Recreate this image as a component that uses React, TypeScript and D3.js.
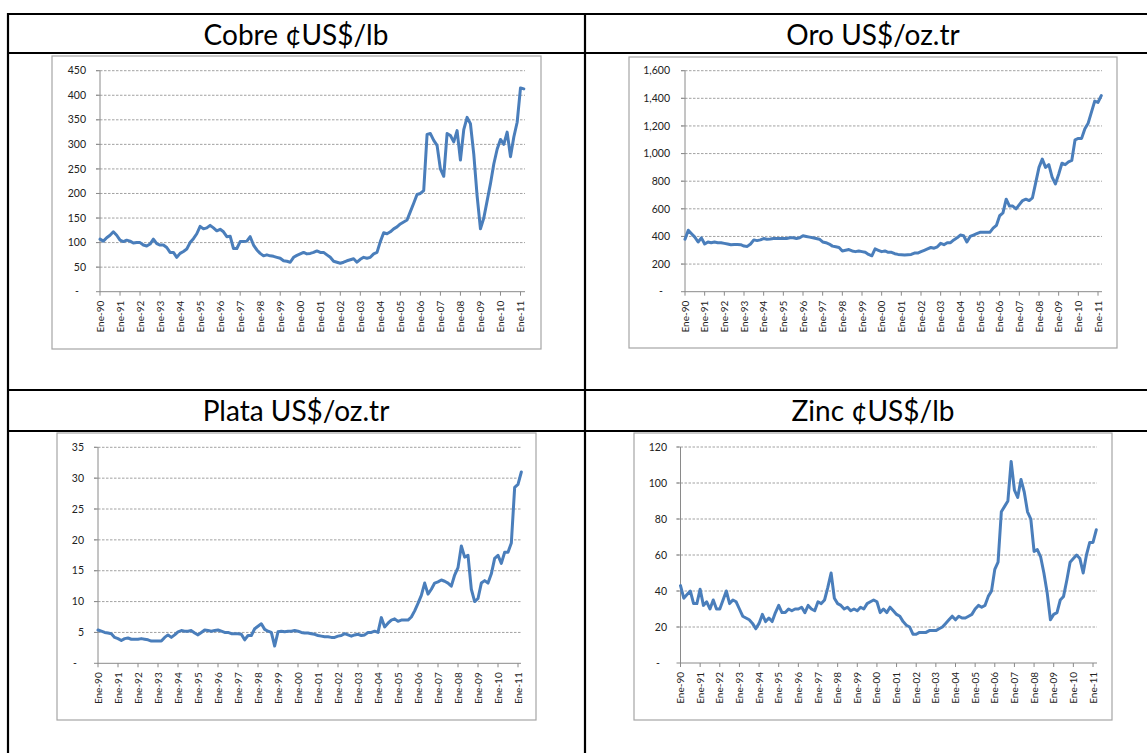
import React from 'react';
import * as d3 from 'd3';

// Ene-90 .. Ene-11, each year holds six bimonthly readings (Ene, Mar, May, Jul, Sep, Nov)
const years = [1990, 1991, 1992, 1993, 1994, 1995, 1996, 1997, 1998, 1999, 2000,
  2001, 2002, 2003, 2004, 2005, 2006, 2007, 2008, 2009, 2010, 2011];

const cobre = [
  [107, 103, 110, 115, 122, 115],
  [105, 102, 105, 103, 99, 100],
  [100, 95, 93, 97, 107, 98],
  [95, 95, 90, 80, 80, 70],
  [78, 82, 87, 100, 108, 118],
  [133, 128, 130, 135, 130, 124],
  [127, 122, 112, 113, 88, 88],
  [102, 102, 103, 112, 95, 85],
  [78, 73, 75, 73, 72, 70],
  [68, 63, 62, 60, 70, 74],
  [77, 80, 77, 78, 80, 83],
  [80, 80, 75, 70, 62, 60],
  [58, 60, 63, 65, 67, 60],
  [66, 70, 68, 70, 77, 80],
  [102, 120, 118, 122, 128, 132],
  [138, 142, 146, 163, 180, 198],
  [200, 206, 320, 322, 308, 298],
  [250, 235, 322, 318, 305, 328],
  [268, 330, 355, 342, 280, 195],
  [128, 150, 185, 220, 260, 290],
  [310, 300, 325, 275, 315, 345],
  [415, 413],
];

const oro = [
  [380, 445, 420, 395, 360, 390],
  [345, 360, 355, 360, 355, 355],
  [350, 345, 340, 342, 342, 340],
  [330, 328, 345, 375, 370, 375],
  [385, 380, 382, 385, 385, 385],
  [385, 385, 390, 390, 385, 390],
  [405, 400, 395, 390, 385, 380],
  [360, 355, 345, 330, 325, 320],
  [295, 300, 305, 295, 290, 295],
  [290, 285, 270, 260, 310, 300],
  [290, 295, 285, 285, 275, 270],
  [268, 265, 268, 270, 280, 280],
  [290, 300, 310, 320, 315, 325],
  [350, 340, 355, 355, 375, 390],
  [410, 405, 360, 400, 410, 420],
  [430, 430, 430, 430, 460, 480],
  [550, 570, 670, 620, 620, 600],
  [630, 660, 670, 660, 680, 790],
  [900, 960, 900, 920, 830, 780],
  [850, 930, 920, 940, 950, 1100],
  [1110, 1110, 1180, 1220, 1300, 1380],
  [1370, 1420],
];

const plata = [
  [5.4, 5.2, 5.0, 4.9, 4.8, 4.2],
  [4.0, 3.7, 4.0, 4.1, 3.9, 3.9],
  [3.9, 4.0, 3.9, 3.8, 3.6, 3.6],
  [3.6, 3.6, 4.2, 4.6, 4.2, 4.6],
  [5.1, 5.3, 5.2, 5.2, 5.3, 4.9],
  [4.6, 5.0, 5.4, 5.3, 5.2, 5.3],
  [5.4, 5.2, 5.0, 5.0, 4.8, 4.8],
  [4.8, 4.7, 3.8, 4.5, 4.5, 5.6],
  [6.0, 6.4, 5.5, 5.2, 5.0, 2.8],
  [5.1, 5.2, 5.1, 5.2, 5.2, 5.3],
  [5.2, 5.0, 4.9, 4.9, 4.8, 4.7],
  [4.5, 4.4, 4.3, 4.3, 4.2, 4.2],
  [4.4, 4.5, 4.8, 4.6, 4.4, 4.6],
  [4.7, 4.5, 4.6, 5.0, 5.0, 5.2],
  [5.0, 7.4, 5.9, 6.5, 7.0, 7.2],
  [6.8, 7.0, 7.0, 7.0, 7.5, 8.5],
  [9.7, 11.0, 13.0, 11.2, 12.0, 13.0],
  [13.2, 13.5, 13.3, 13.0, 12.5, 14.3],
  [15.5, 19.0, 17.2, 17.5, 12.0, 10.0],
  [10.5, 13.0, 13.4, 13.0, 14.5, 17.0],
  [17.5, 16.2, 18.0, 18.0, 19.5, 28.5],
  [29.0, 31.0],
];

const zinc = [
  [43, 36, 38, 40, 33, 33],
  [41, 32, 34, 30, 35, 30],
  [30, 35, 40, 33, 35, 34],
  [30, 26, 25, 24, 22, 19],
  [22, 27, 23, 25, 23, 28],
  [32, 28, 28, 30, 29, 30],
  [30, 31, 28, 32, 30, 29],
  [34, 33, 35, 42, 50, 36],
  [33, 32, 30, 31, 29, 30],
  [29, 31, 30, 33, 34, 35],
  [34, 28, 30, 28, 31, 29],
  [27, 26, 23, 21, 20, 16],
  [16, 17, 17, 17, 18, 18],
  [18, 19, 20, 22, 24, 26],
  [24, 26, 25, 25, 26, 27],
  [30, 32, 31, 32, 37, 40],
  [52, 56, 84, 87, 90, 112],
  [96, 92, 102, 95, 84, 80],
  [62, 63, 59, 50, 39, 24],
  [27, 28, 35, 37, 46, 56],
  [58, 60, 58, 50, 60, 67],
  [67, 74],
];

const titles = ['Cobre ¢US$/lb', 'Oro US$/oz.tr', 'Plata US$/oz.tr', 'Zinc ¢US$/lb'];
const yMaxes = [450, 1600, 35, 120];
const ySteps = [50, 200, 5, 20];

// page geometry of each chart box
const boxes = [
  {fx0: 52, fy0: 56, fx1: 541, fy1: 349, x90: 100, x11: 520.5, xEnd: 525, yTop: 70.7, yBot: 291.7, lx: 86, tx: 296, ty: 45},
  {fx0: 629, fy0: 57, fx1: 1117, fy1: 348, x90: 685, x11: 1098, xEnd: 1102, yTop: 70.7, yBot: 291.7, lx: 670, tx: 873, ty: 45},
  {fx0: 57, fy0: 433, fx1: 536, fy1: 720, x90: 98, x11: 518, xEnd: 521, yTop: 447.3, yBot: 663.3, lx: 84, tx: 296, ty: 421},
  {fx0: 634, fy0: 433, fx1: 1112, fy1: 720, x90: 680.5, x11: 1093, xEnd: 1097, yTop: 447, yBot: 663, lx: 667, tx: 873, ty: 421},
];

const series = [cobre, oro, plata, zinc];
const font = 'Lato, "Open Sans", sans-serif';
const fmt = d3.format(',');

function toPoints(rows: number[][]) {
  const pts: [number, number][] = [];
  rows.forEach((r, i) => r.forEach((v, j) => pts.push([years[i] + j / 6, v])));
  return pts;
}

function Chart({idx}: {idx: number}) {
  const b = boxes[idx];
  const x = d3.scaleLinear().domain([1990, 2011]).range([b.x90, b.x11]);
  const y = d3.scaleLinear().domain([0, yMaxes[idx]]).range([b.yBot, b.yTop]);
  const yTicks = d3.range(0, yMaxes[idx] + ySteps[idx] / 2, ySteps[idx]);
  const line = d3.line<[number, number]>().x(d => x(d[0])).y(d => y(d[1])).curve(d3.curveLinear);
  const pts = toPoints(series[idx]);
  return (
    <g>
      <text x={b.tx} y={b.ty} textAnchor="middle" fontSize={28} fontFamily={font} fill="#000">{titles[idx]}</text>
      <rect x={b.fx0} y={b.fy0} width={b.fx1 - b.fx0} height={b.fy1 - b.fy0} fill="#fff" stroke="#a6a6a6" strokeWidth={1.2} />
      {yTicks.map(t => (
        <g key={t}>
          {t > 0 && <line x1={b.x90 - 4} x2={b.xEnd} y1={y(t)} y2={y(t)} stroke="#8a8a8a" strokeWidth={0.8} strokeDasharray="2.5,1.5" />}
          <line x1={b.x90 - 4} x2={b.x90} y1={y(t)} y2={y(t)} stroke="#8a8a8a" strokeWidth={1} />
          <text x={t === 0 ? b.lx - 7 : b.lx} y={y(t)} dy="0.35em" textAnchor="end" fontSize={10.5} fontFamily={font} fill="#222">
            {t === 0 ? '-' : fmt(t)}
          </text>
        </g>
      ))}
      <line x1={b.x90} x2={b.x90} y1={b.yTop} y2={b.yBot} stroke="#8a8a8a" strokeWidth={1} />
      <line x1={b.x90} x2={b.xEnd} y1={b.yBot} y2={b.yBot} stroke="#8a8a8a" strokeWidth={1} />
      {years.map(yr => (
        <g key={yr}>
          <line x1={x(yr)} x2={x(yr)} y1={b.yBot} y2={b.yBot + 4} stroke="#8a8a8a" strokeWidth={1} />
          <text transform={`translate(${x(yr)},${b.yBot + 9}) rotate(-90)`} dy="0.35em" textAnchor="end"
            fontSize={10} fontFamily={font} fill="#222">{'Ene-' + String(yr).slice(2)}</text>
        </g>
      ))}
      <path d={line(pts) || ''} fill="none" stroke="#4a7ebb" strokeWidth={3} strokeLinejoin="round" strokeLinecap="round" />
    </g>
  );
}

export default function App() {
  const W = 1147, H = 753;
  return (
    <div style={{position: 'fixed', left: 0, top: 0}}>
      <svg width={W} height={H} style={{display: 'block', background: '#fff'}}>
        {/* table grid */}
        <g stroke="#000" strokeWidth={2.2}>
          <line x1={7} x2={W} y1={14} y2={14} />
          <line x1={7} x2={W} y1={53} y2={53} />
          <line x1={7} x2={W} y1={390} y2={390} />
          <line x1={7} x2={W} y1={431} y2={431} />
          <line x1={8} x2={8} y1={13} y2={H} />
          <line x1={585} x2={585} y1={13} y2={H} />
        </g>
        {[0, 1, 2, 3].map(i => <Chart key={i} idx={i} />)}
      </svg>
    </div>
  );
}
